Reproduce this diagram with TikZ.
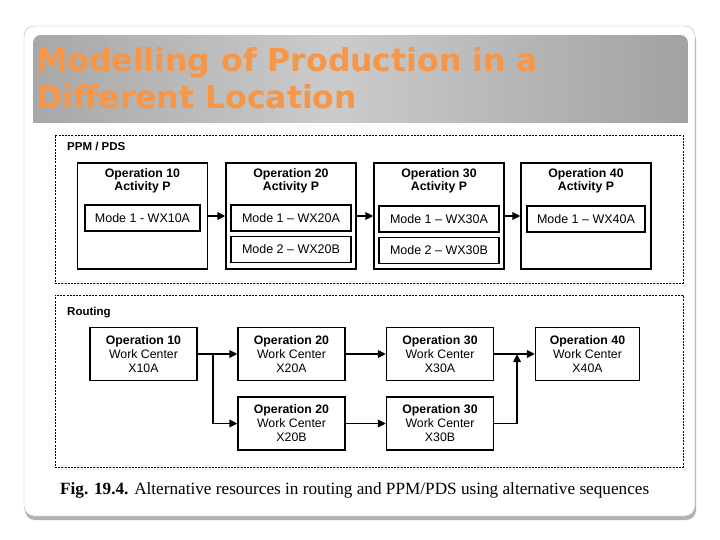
\documentclass[tikz,border=0pt]{standalone}
\usepackage{fontspec}
\setmainfont{Liberation Sans}
\newfontfamily\titlefont{DejaVu Sans}
\newfontfamily\capfont{Liberation Serif}
\usetikzlibrary{positioning,arrows.meta}

\definecolor{titleorange}{HTML}{F79646}
\definecolor{framegray}{HTML}{B4B4B4}
\definecolor{bandside}{HTML}{A2A2A2}
\definecolor{bandmid}{HTML}{CBCBCB}

\begin{document}
\begin{tikzpicture}[x=1pt,y=-1pt]
      \tikzstyle{every node}=[font=\fontsize{12}{14}\selectfont, inner sep=0pt]
      \tikzstyle{region}=[draw, dash pattern=on 2pt off 1.2pt, line width=0.8pt]
      \tikzstyle{opbox}=[draw, line width=1.3pt, minimum width=130pt, minimum height=106pt]
      \tikzstyle{optitle}=[font=\bfseries\fontsize{12.3}{13.5}\selectfont, align=center]
      \tikzstyle{modebox}=[draw, line width=1.3pt, minimum width=120pt, minimum height=26pt, font=\fontsize{12.5}{14}\selectfont]
      \tikzstyle{wcbox}=[draw, line width=1.3pt, minimum width=107pt, minimum height=53pt, align=center, font=\fontsize{12.3}{14}\selectfont]
      \tikzstyle{lbl}=[anchor=north west, font=\bfseries\fontsize{11.5}{13}\selectfont]
      \tikzstyle{flow}=[line width=1.7pt, -{Triangle[length=8pt,width=7.5pt]}]

      \useasboundingbox (0,0) rectangle (720,540);
      \fill[white] (0,0) rectangle (720,540);

      % slide
      \fill[gray!60, rounded corners=10pt] (25,30) rectangle (696,520);
      \draw[framegray, fill=white, rounded corners=10pt] (24,26) rectangle (695,516);
      \begin{scope}
        \clip (33,123) [rounded corners=8pt] -- (33,35) -- (688,35) [sharp corners] -- (688,123) -- cycle;
        \foreach \i in {0,...,130} {
          \pgfmathsetmacro\mix{100*abs(\i-60)/70}
          \fill[bandside!\mix!bandmid] (33+5*\i,35) rectangle (38.5+5*\i,123);
        }
      \end{scope}
      \node[anchor=base west, font=\titlefont\bfseries\fontsize{31.5}{37}\selectfont, text=titleorange] (title1) at (36,72) {Modelling of Production in a};
      \node[anchor=base west, font=\titlefont\bfseries\fontsize{31.5}{37}\selectfont, text=titleorange] (title2) at (36,109) {Different Location};

      % PPM / PDS
      \node[region, minimum width=628pt, minimum height=148pt] (ppm) at (369,209) {};
      \node[lbl] (ppmlbl) at (67,142) {PPM / PDS};

      \node[opbox] (op10) at (142.5,216) {};
      \node[opbox] (op20) at (291,216) {};
      \node[opbox] (op30) at (439,216) {};
      \node[opbox] (op40) at (586,216) {};
      \node[optitle, below=6pt of op10.north] (op10t) {Operation 10\\Activity P};
      \node[optitle, below=6pt of op20.north] (op20t) {Operation 20\\Activity P};
      \node[optitle, below=6pt of op30.north] (op30t) {Operation 30\\Activity P};
      \node[optitle, below=6pt of op40.north] (op40t) {Operation 40\\Activity P};

      \node[modebox, minimum width=115pt] (m10a) at (142.5,218) {Mode 1 - WX10A};
      \node[modebox] (m20a) at (291,218) {Mode 1 -- WX20A};
      \node[modebox] (m20b) at (291,249.5) {Mode 2 -- WX20B};
      \node[modebox] (m30a) at (439,219) {Mode 1 -- WX30A};
      \node[modebox] (m30b) at (439,250.5) {Mode 2 -- WX30B};
      \node[modebox, minimum width=118pt] (m40a) at (586,219) {Mode 1 -- WX40A};

      \draw[flow] (op10) -- (op20);
      \draw[flow] (op20) -- (op30);
      \draw[flow] (op30) -- (op40);

      % Routing
      \node[region, minimum width=628pt, minimum height=172pt] (rout) at (369,381) {};
      \node[lbl] (routlbl) at (67,307) {Routing};

      \node[wcbox] (rt10) at (143.5,354) {\textbf{Operation 10}\\Work Center\\X10A};
      \node[wcbox] (rt20a) at (291.5,354) {\textbf{Operation 20}\\Work Center\\X20A};
      \node[wcbox] (rt20b) at (291.5,423.5) {\textbf{Operation 20}\\Work Center\\X20B};
      \node[wcbox] (rt30a) at (440,354) {\textbf{Operation 30}\\Work Center\\X30A};
      \node[wcbox] (rt30b) at (440,423.5) {\textbf{Operation 30}\\Work Center\\X30B};
      \node[wcbox, minimum width=104pt] (rt40) at (587.5,354) {\textbf{Operation 40}\\Work Center\\X40A};

      \coordinate (split) at (213,354);
      \coordinate (join) at (517,354);
      \draw[flow] (rt10) -- (rt20a);
      \draw[flow] (split) |- (rt20b);
      \draw[flow] (rt20a) -- (rt30a);
      \draw[flow] (rt20b) -- (rt30b);
      \draw[flow] (rt30a) -- (rt40);
      \draw[flow] (rt30b) -| (join);

      \node[anchor=base west, font=\capfont\fontsize{17.2}{20}\selectfont] (caption) at (60,494)
            {\textbf{Fig. 19.4.} Alternative resources in routing and PPM/PDS using alternative sequences};

\end{tikzpicture}
\end{document}
